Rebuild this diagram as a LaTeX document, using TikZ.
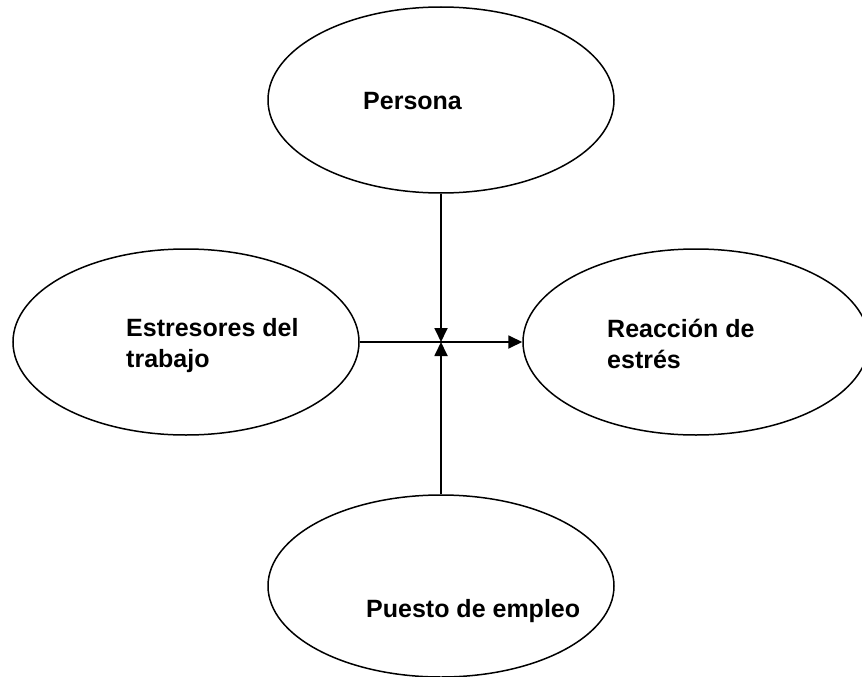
\documentclass[tikz,border=0pt]{standalone}
\usepackage{fontspec}
\setmainfont{Liberation Sans}
\usetikzlibrary{shapes.geometric,arrows.meta,positioning}

\begin{document}
\begin{tikzpicture}[x=1pt, y=-1pt, >={Triangle[length=14pt,width=13pt]},
        oval/.style={draw, ellipse, line width=1.5pt, minimum width=346pt, minimum height=186pt, inner sep=0pt},
        lbl/.style={font=\fontsize{25}{31}\selectfont\bfseries, align=left, inner sep=0pt, anchor=base west}]
        \useasboundingbox (0,0) rectangle (862,677);

        \node [oval] (persona) at (441,100) {};
        \node [oval] (estresores) at (186,342) {};
        \node [oval] (reaccion) at (696,342) {};
        \node [oval, minimum height=182pt] (puesto) at (441,586) {};
        \coordinate (cruce) at (441,342);

        % base = baseline of the last line
        \node [lbl] (tpersona) at (363,110) {Persona};
        \node [lbl] (testresores) at (126,367) {Estresores del\\trabajo};
        \node [lbl] (treaccion) at (607,368) {Reacción de\\estrés};
        \node [lbl] (tpuesto) at (366,617) {Puesto de empleo};

        \draw [->, line width=1.8pt] (persona) -- (cruce);
        \draw [->, line width=1.8pt] (puesto) -- (cruce);
        \draw [->, line width=1.8pt] (estresores) -- (reaccion);
    \end{tikzpicture}
\end{document}
